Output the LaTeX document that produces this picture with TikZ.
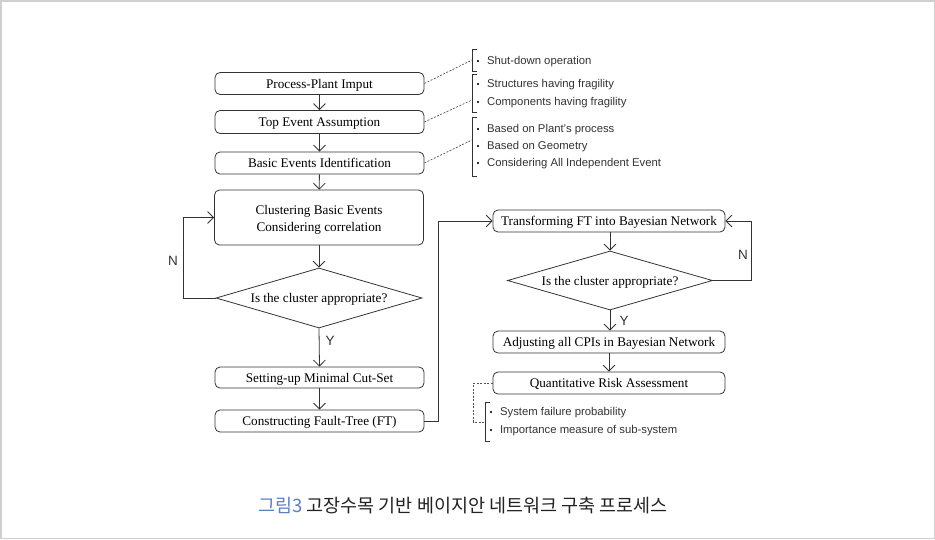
\documentclass[tikz,border=0pt]{standalone}
\usepackage{fontspec}
\setmainfont{Liberation Serif}
\setsansfont{Liberation Sans}
\newfontfamily\kofont{Noto Sans CJK KR}
\usepackage{xcolor}
\usetikzlibrary{shapes.geometric,arrows.meta}
\definecolor{linegray}{HTML}{333333}
\definecolor{capblue}{HTML}{5B7FC6}
\definecolor{captext}{HTML}{222222}
\definecolor{framegray}{HTML}{CFCFCF}
\newcommand{\itm}[1]{\raisebox{3.2pt}{\rule{1.9pt}{1.9pt}}\hspace{8pt}#1}

\begin{document}
\begin{tikzpicture}[x=1pt, y=-1pt,
    box/.style={rectangle, draw=linegray, line width=0.8pt, rounded corners=5pt, minimum width=209pt, minimum height=22pt, inner sep=0pt, align=center, text height=11pt, text depth=1.5pt, font=\fontsize{13.2}{17}\selectfont},
    wbox/.style={box, minimum width=232pt},
    decision/.style={diamond, draw=linegray, line width=0.8pt, aspect=3.45, inner sep=0pt, minimum width=206pt, minimum height=60pt, text height=11pt, text depth=1.5pt, font=\fontsize{13.2}{15}\selectfont},
    arrow/.style={-{Straight Barb[length=6pt,width=12pt]}, draw=linegray, line width=0.8pt},
    dashline/.style={draw=linegray!85, line width=0.7pt, dash pattern=on 2pt off 1.5pt},
    bracket/.style={draw=linegray, line width=0.8pt},
    note/.style={anchor=west, inner sep=0pt, font=\sffamily\fontsize{11.3}{13}\selectfont, text=linegray},
    yn/.style={font=\sffamily\fontsize{13.5}{15}\selectfont, text=linegray}
]
\useasboundingbox (0,0) rectangle (935,539);
\draw[framegray, line width=1.5pt] (0.75,0.75) rectangle (934.25,538.25);

% Left column: fault tree
\node[box] (plant) at (319.5,83.5) {Process-Plant Imput};
\node[box, minimum height=23pt] (top) at (319.5,122) {Top Event Assumption};
\node[box] (basic) at (319.5,163) {Basic Events Identification};
\node[box, minimum height=55pt, text height=28pt, text depth=1pt] (clus) at (319,217.5) {Clustering Basic Events\\Considering correlation};
\node[decision] (dia1) at (319,298) {Is the cluster appropriate?};
\node[box, minimum height=21pt] (mcs) at (319.5,377.5) {Setting-up Minimal Cut-Set};
\node[box] (cft) at (319.5,421) {Constructing Fault-Tree (FT)};

% Right column: Bayesian network
\node[wbox] (trans) at (609,221) {Transforming FT into Bayesian Network};
\node[decision, minimum width=205pt, minimum height=59pt] (dia2) at (610,280.5) {Is the cluster appropriate?};
\node[wbox] (adj) at (609,342) {Adjusting all CPIs in Bayesian Network};
\node[wbox] (qra) at (609,383) {Quantitative Risk Assessment};

\draw[arrow] (plant) -- (top);
\draw[arrow] (top) -- (basic);
\draw[arrow] (basic) -- (clus);
\draw[arrow] (clus.south) -- (dia1.north);
\draw[arrow] (dia1.south) -- (mcs.north);
\draw[arrow] (mcs) -- (cft);
\draw[arrow] (dia1.west) -- ++(-32,0) |- (clus.west);
\draw[arrow] (cft.east) -- ++(14,0) |- (trans.west);

\draw[arrow] (trans.south -| dia2.north) -- (dia2.north);
\draw[arrow] (dia2.south) -- (adj.north -| dia2.south);
\draw[arrow] (adj) -- (qra);
\draw[arrow] (dia2.east) -- ++(38,0) |- (trans.east);

\node[yn] (n1) at (173,261) {N};
\node[yn] (y1) at (330,341) {Y};
\node[yn] (n2) at (743,255) {N};
\node[yn] (y2) at (624,321) {Y};

% Notes
\coordinate (b1) at (472,60);
\coordinate (b2) at (472,100);
\coordinate (b3) at (472,140);
\coordinate (b4) at (485,422);

\draw[bracket] (477,49) -- (472,49) -- (472,71) -- (477,71);
\draw[bracket] (477,74) -- (472,74) -- (472,112) -- (477,112);
\draw[bracket] (477,117) -- (472,117) -- (472,176) -- (477,176);
\draw[bracket] (490,402) -- (485,402) -- (485,441) -- (490,441);

\draw[dashline] (plant.east) -- (b1);
\draw[dashline] (top.east) -- (b2);
\draw[dashline] (basic.east) -- (b3);
\draw[dashline] (qra.west) -- ++(-19,0) |- (b4);

\node[note] (s1) at (477,62) {\itm{Shut-down operation}};
\node[note] (s2) at (477,85) {\itm{Structures having fragility}};
\node[note] (s3) at (477,103) {\itm{Components having fragility}};
\node[note] (s4) at (477,130) {\itm{Based on Plant's process}};
\node[note] (s5) at (477,147) {\itm{Based on Geometry}};
\node[note] (s6) at (477,164) {\itm{Considering All Independent Event}};
\node[note] (s7) at (490,413) {\itm{System failure probability}};
\node[note] (s8) at (490,431) {\itm{Importance measure of sub-system}};

\node[font=\kofont\fontsize{18.5}{22}\selectfont, text=captext] (caption) at (463,506) {\textcolor{capblue}{그림3} 고장수목 기반 베이지안 네트워크 구축 프로세스};
\end{tikzpicture}
\end{document}
